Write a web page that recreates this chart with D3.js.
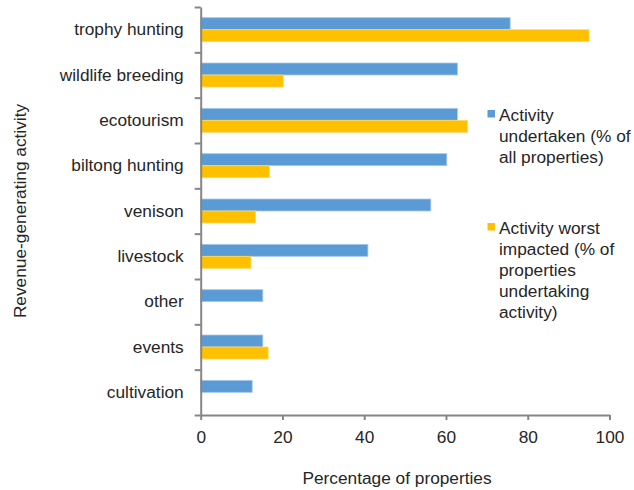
<!DOCTYPE html>
<html><head><meta charset="utf-8">
<script src="https://cdn.jsdelivr.net/npm/d3@7"></script>
<style>
body{margin:0;background:#fff;}
text{font-family:"Liberation Sans",Arial,sans-serif;fill:#262626;}
</style></head>
<body><svg id="c" width="634" height="490"></svg>
<script>
const categories = ["trophy hunting","wildlife breeding","ecotourism","biltong hunting","venison","livestock","other","events","cultivation"];
const seriesNames = ["Activity undertaken (% of all properties)","Activity worst impacted (% of properties undertaking activity)"];
const undertaken = [75.7, 62.8, 62.8, 60.2, 56.3, 40.9, 15.2, 15.2, 12.6];
const worstImpacted = [95.0, 20.2, 65.3, 16.8, 13.4, 12.3, 0, 16.5, 0];
const xTicks = [0,20,40,60,80,100];
const colors = ["#5B9BD5","#FFC000"];
const strokes = ["#a8c9ea","#ffd966"];
const legendLines = [["Activity","undertaken (% of","all properties)"],["Activity worst","impacted (% of","properties","undertaking","activity)"]];
const FS = "17.3px";
const FF = "Liberation Sans, Arial, sans-serif";

const svg = d3.select("#c");
const x = d3.scaleLinear().domain([0,100]).range([200.7,609.5]);
const y = d3.scaleBand().domain(categories).range([7,415]);
const inner = d3.scaleBand().domain([0,1]).range([0,y.bandwidth()]).paddingOuter(0.89).paddingInner(0);
const yIdx = d3.scaleLinear().domain([0,categories.length]).range([7,415]);

const data = categories.map((c,i)=>({c, v:[undertaken[i], worstImpacted[i]]}));
const g = svg.append("g");
data.forEach(d=>{
  d.v.forEach((v,s)=>{
    if(v<=0) return;
    g.append("rect")
      .attr("x", x(0)).attr("y", y(d.c)+inner(s))
      .attr("width", x(v)-x(0)).attr("height", inner.bandwidth())
      .attr("fill", colors[s]).attr("stroke", strokes[s]).attr("stroke-width",0.8);
  });
});

const ya = svg.append("g").attr("transform",`translate(${x(0)},0)`)
  .call(d3.axisLeft(yIdx).tickValues(d3.range(0,categories.length+1)).tickFormat("").tickSize(6).tickSizeOuter(0));
ya.selectAll("line,path").attr("stroke","#868686").attr("stroke-width",2);
const yl = svg.append("g").attr("transform",`translate(${x(0)},0)`)
  .call(d3.axisLeft(y).tickSize(0).tickPadding(17));
yl.select(".domain").remove();
yl.selectAll("text").style("font-size",FS).attr("fill","#262626").style("font-family",FF);

const xa = svg.append("g").attr("transform","translate(0,415)")
  .call(d3.axisBottom(x).tickValues(xTicks).tickSize(5).tickSizeOuter(0).tickPadding(11));
xa.selectAll("line,path").attr("stroke","#868686").attr("stroke-width",2);
xa.selectAll("text").style("font-size",FS).attr("fill","#262626").style("font-family",FF);

svg.append("text").attr("transform","translate(26,211) rotate(-90)")
  .attr("text-anchor","middle").style("font-size",FS).text("Revenue-generating activity");
svg.append("text").attr("x",397).attr("y",484)
  .attr("text-anchor","middle").style("font-size",FS).text("Percentage of properties");

const legTop = [121, 234];
legendLines.forEach((lines,s)=>{
  svg.append("rect").attr("x",487.5).attr("y",legTop[s]-11).attr("width",7.5).attr("height",7.5).attr("fill",colors[s]);
  const t = svg.append("text").attr("x",499).attr("y",legTop[s]).style("font-size",FS);
  lines.forEach((ln,k)=>t.append("tspan").attr("x",499).attr("y",legTop[s]+k*21).text(ln));
});
</script></body></html>
